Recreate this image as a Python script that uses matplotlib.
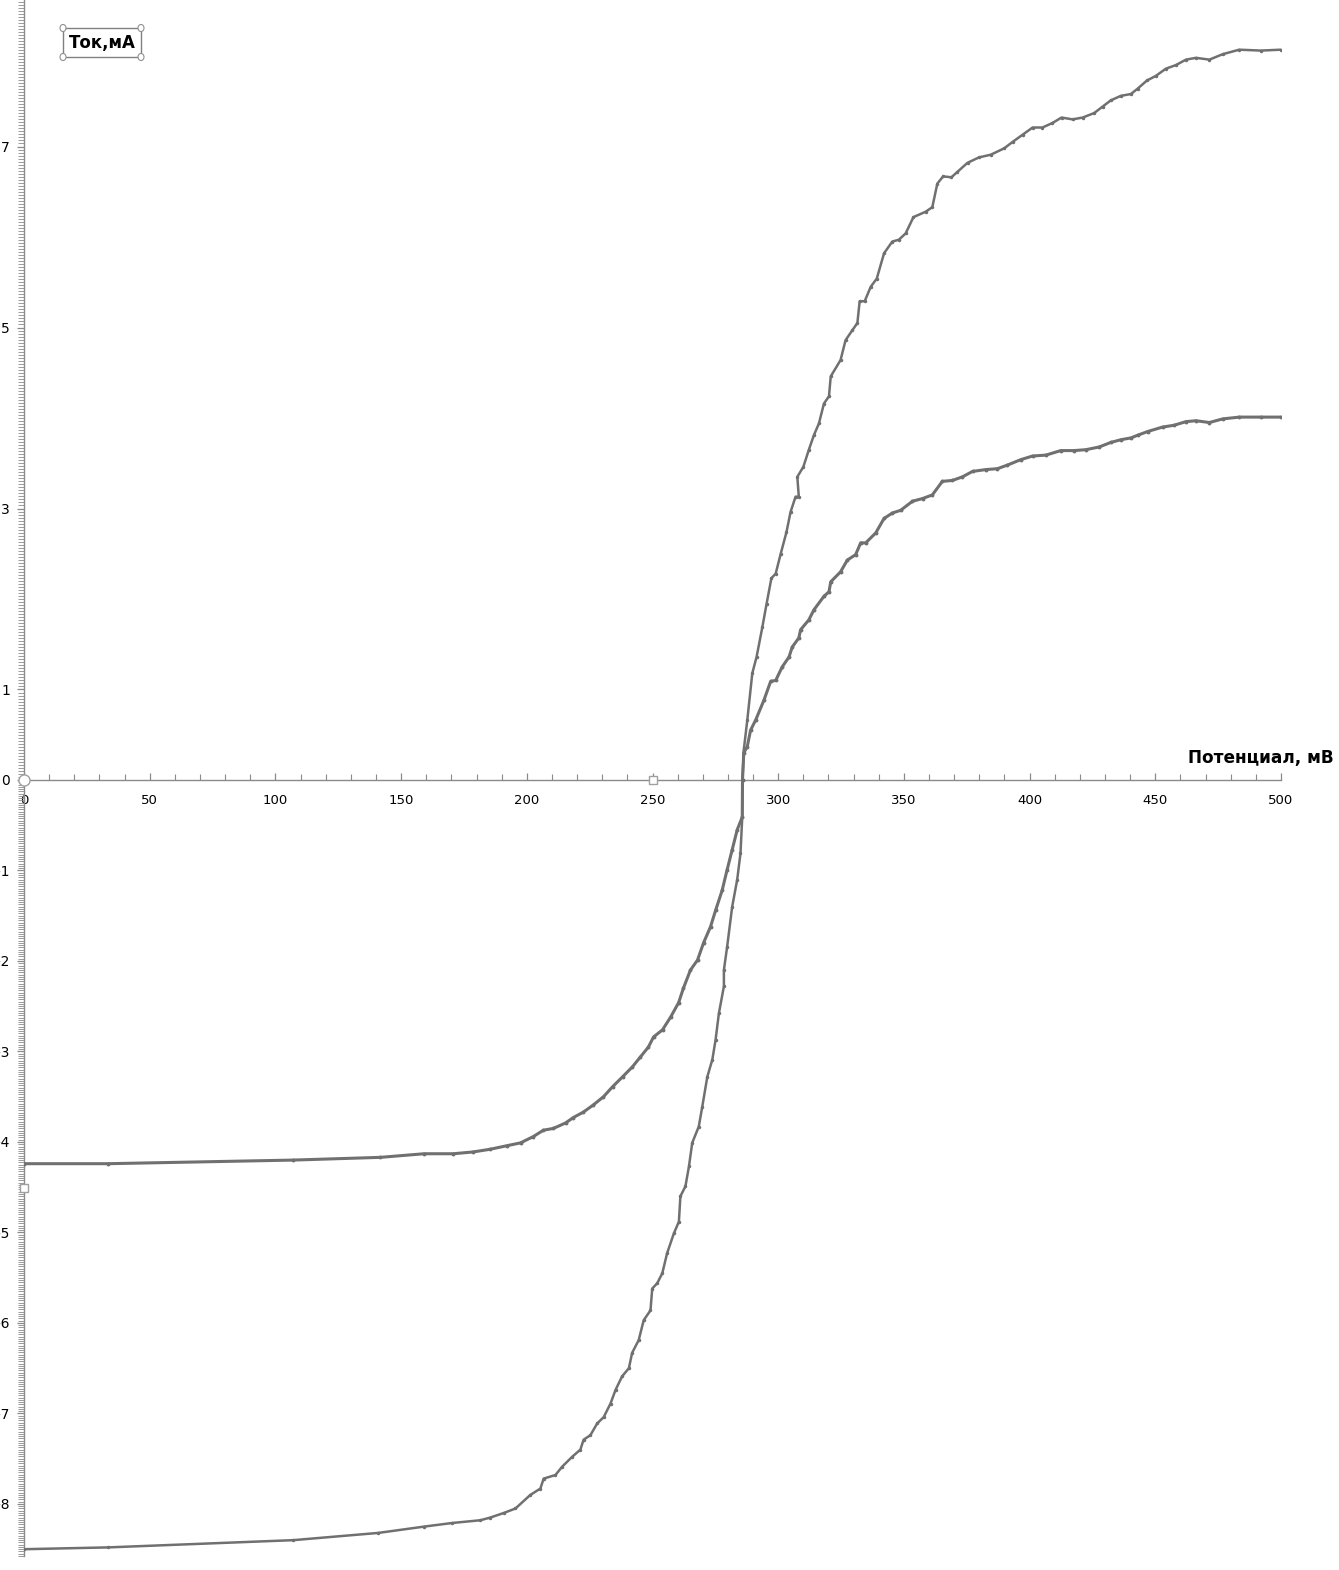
import numpy as np
import matplotlib
matplotlib.use("Agg")
import matplotlib.pyplot as plt
from matplotlib.ticker import FixedLocator, MultipleLocator
from matplotlib.patches import Rectangle, Circle

plt.rcParams['font.family'] = ['DejaVu Sans']

# potential (mV) / current (mA) — curve with limiting current ~8 mA
pot_hi = [0, 33.4, 107.1, 140.9, 159.2, 170.4, 181.5, 185.5, 190.8, 195.5, 201.4, 205.4,
          206.7, 211.4, 214.0, 218.0, 221.3, 222.6, 225.3, 228.0, 230.6, 233.3, 235.3,
          237.9, 240.6, 241.9, 244.5, 246.5, 249.2, 249.9, 251.9, 253.9, 255.8, 258.5,
          260.5, 261.1, 263.1, 264.5, 265.8, 268.4, 269.8, 271.8, 273.8, 275.1, 276.4,
          278.4, 278.4, 279.7, 281.7, 283.7, 285.0, 285.7, 285.8,
          286.3, 287.7, 289.7, 291.4, 293.7, 295.4, 297.3, 299.0, 301.0, 303.3, 304.9,
          306.9, 308.2, 307.6, 310.0, 312.2, 314.2, 316.2, 318.2, 320.2, 320.9, 324.8,
          326.8, 329.5, 331.5, 332.4, 334.4, 336.8, 339.2, 342.1, 345.4, 348.0, 350.7,
          353.8, 358.7, 361.3, 363.3, 365.6, 368.9, 371.3, 375.3, 379.9, 384.6, 389.9,
          393.2, 397.2, 401.2, 405.1, 409.1, 412.7, 417.1, 421.1, 425.7, 429.0, 432.3,
          436.3, 440.3, 443.0, 446.7, 450.2, 454.2, 458.2, 462.2, 466.2, 471.5, 476.8,
          483.4, 492.0, 500.0]
cur_hi = [-8.50, -8.48, -8.40, -8.32, -8.25, -8.21, -8.18, -8.15, -8.10, -8.05, -7.90, -7.83,
          -7.72, -7.68, -7.59, -7.48, -7.40, -7.29, -7.24, -7.11, -7.04, -6.89, -6.74,
          -6.59, -6.50, -6.33, -6.19, -5.97, -5.86, -5.62, -5.56, -5.45, -5.23, -5.01,
          -4.88, -4.60, -4.49, -4.27, -4.01, -3.83, -3.61, -3.28, -3.09, -2.87, -2.58,
          -2.28, -2.10, -1.84, -1.40, -1.10, -0.81, -0.41, 0.00,
          0.33, 0.66, 1.18, 1.36, 1.69, 1.95, 2.23, 2.28, 2.50, 2.74, 2.96,
          3.13, 3.13, 3.35, 3.46, 3.65, 3.81, 3.94, 4.16, 4.24, 4.46, 4.64,
          4.86, 4.97, 5.05, 5.29, 5.29, 5.45, 5.54, 5.82, 5.95, 5.97, 6.04,
          6.22, 6.28, 6.33, 6.59, 6.67, 6.66, 6.72, 6.82, 6.88, 6.91, 6.98,
          7.05, 7.13, 7.21, 7.21, 7.26, 7.32, 7.30, 7.32, 7.37, 7.44, 7.51,
          7.56, 7.58, 7.64, 7.73, 7.78, 7.86, 7.90, 7.96, 7.98, 7.96, 8.02,
          8.07, 8.06, 8.07]

# curve with limiting current ~4 mA
pot_lo = [0, 33.4, 107.1, 141.7, 159.2, 170.8, 178.7, 185.5, 192.3, 197.5, 202.6, 206.6,
          210.6, 215.4, 218.5, 222.5, 226.5, 230.5, 234.1, 238.1, 242.0, 245.2, 248.4,
          250.4, 254.0, 257.2, 260.4, 262.3, 265.1, 267.9, 270.3, 273.1, 275.1, 277.7,
          279.7, 281.7, 283.7, 285.7, 285.8,
          286.3, 287.7, 289.0, 291.0, 294.3, 297.0, 299.0, 301.6, 304.3, 305.6, 308.2,
          308.9, 312.2, 314.2, 318.2, 320.2, 320.9, 324.8, 327.5, 330.8, 332.8, 334.8,
          338.8, 342.1, 345.4, 348.7, 353.4, 357.4, 361.3, 365.3, 369.3, 373.3, 377.3,
          382.6, 387.2, 391.2, 396.5, 401.2, 406.5, 412.4, 417.7, 422.4, 427.7, 432.3,
          436.3, 440.3, 443.0, 446.9, 452.9, 457.5, 462.2, 466.2, 471.5, 476.8, 483.4,
          492.0, 500.0]
cur_lo = [-4.24, -4.24, -4.20, -4.17, -4.13, -4.13, -4.11, -4.08, -4.04, -4.01, -3.94, -3.87,
          -3.85, -3.79, -3.73, -3.67, -3.59, -3.50, -3.39, -3.28, -3.17, -3.06, -2.95,
          -2.84, -2.76, -2.62, -2.46, -2.30, -2.10, -1.99, -1.80, -1.62, -1.44, -1.22,
          -0.99, -0.77, -0.55, -0.41, 0.00,
          0.30, 0.37, 0.55, 0.66, 0.88, 1.09, 1.10, 1.25, 1.36, 1.47, 1.57,
          1.66, 1.77, 1.88, 2.03, 2.08, 2.19, 2.30, 2.43, 2.49, 2.62, 2.62,
          2.73, 2.89, 2.95, 2.98, 3.08, 3.11, 3.15, 3.30, 3.31, 3.35, 3.41,
          3.43, 3.44, 3.48, 3.54, 3.58, 3.59, 3.64, 3.64, 3.65, 3.68, 3.73,
          3.76, 3.78, 3.81, 3.85, 3.90, 3.92, 3.96, 3.97, 3.95, 3.99, 4.01,
          4.01, 4.01]

y_ticks = [7, 5, 3, 1, 0, -1, -2, -3, -4, -5, -6, -7, -8]
y_labels = ['7', '5', '3', '1', '0', '−1', '−2', '−3', '−4', '−5', '−6', '−7', '−8']
x_ticks = [0, 50, 100, 150, 200, 250, 300, 350, 400, 450, 500]

# selection handles left in the screenshot (data coords)
handle_sq_x = [0, 250]
handle_sq_y = [-4.51, 0]

W, H = 1339, 1570
fig = plt.figure(figsize=(W / 100, H / 100), dpi=100)
ax = fig.add_axes([24 / W, 14 / H, (1281 - 24) / W, 1556 / H])
ax.set_xlim(0, 500)
ax.set_ylim(-8.575, 8.619)

col = '#707070'
ax.plot(pot_lo, cur_lo, color=col, lw=2.2, marker='o', ms=1.8, zorder=3)
ax.plot(pot_hi, cur_hi, color=col, lw=1.8, marker='o', ms=1.5, zorder=3)

for s in ['top', 'right']:
    ax.spines[s].set_visible(False)
ax.spines['bottom'].set_position(('data', 0))
ax.spines['left'].set_position(('data', 0))
for s in ['bottom', 'left']:
    ax.spines[s].set_color('#8a8a8a')
    ax.spines[s].set_linewidth(1.0)

ax.xaxis.set_major_locator(FixedLocator(x_ticks))
ax.xaxis.set_minor_locator(MultipleLocator(10))
ax.tick_params(axis='x', which='major', direction='in', length=5, width=0.9,
               color='#8a8a8a', pad=10, labelsize=9.5)
ax.tick_params(axis='x', which='minor', direction='in', length=4, width=0.8, color='#8a8a8a')

ax.yaxis.set_major_locator(FixedLocator(y_ticks))
ax.set_yticklabels(y_labels)
minor_y = np.concatenate([np.arange(0, 8.62, 1 / 30), np.arange(0, -8.6, -1 / 40)])
ax.yaxis.set_minor_locator(FixedLocator(minor_y))
ax.tick_params(axis='y', which='major', direction='out', length=5, width=0.9,
               color='#8a8a8a', pad=5, labelsize=10)
ax.tick_params(axis='y', which='minor', direction='out', length=4, width=0.6, color='#8a8a8a')

ax.plot(handle_sq_x, handle_sq_y, ls='none', marker='s', ms=6, mfc='white',
        mec='#a0a0a0', mew=1, clip_on=False, zorder=5)
ax.plot([0], [0], ls='none', marker='o', ms=8, mfc='white', mec='#a0a0a0',
        mew=1, clip_on=False, zorder=5)

# axis titles as on the original chart
fig.text(1334 / W, 1 - 758 / H, 'Потенциал, мВ', ha='right', va='center',
         fontsize=12.2, fontweight='bold')

bx0, by0, bx1, by1 = 63, 28, 141, 57
fig.patches.append(Rectangle((bx0 / W, 1 - by1 / H), (bx1 - bx0) / W, (by1 - by0) / H,
                             transform=fig.transFigure, fill=False,
                             edgecolor='#808080', lw=1))
for cx, cy in [(bx0, by0), (bx1, by0), (bx0, by1), (bx1, by1)]:
    fig.patches.append(Circle((cx / W, 1 - cy / H), 3 / W, transform=fig.transFigure,
                              facecolor='white', edgecolor='#909090', lw=0.8))
fig.text((bx0 + bx1) / 2 / W, 1 - 43 / H, 'Ток,мА', ha='center', va='center',
         fontsize=12, fontweight='bold')

fig.savefig('out.png', dpi=100)
